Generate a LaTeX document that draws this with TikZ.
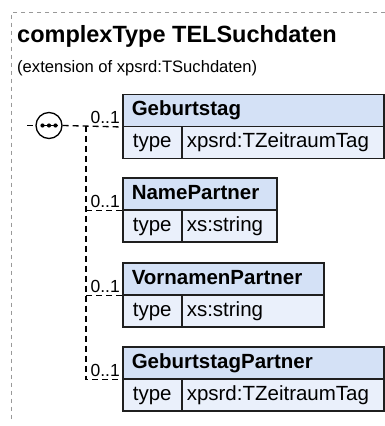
\documentclass[tikz,border=0pt]{standalone}
\usepackage{fontspec}
\setmainfont{Liberation Sans}
\begin{document}
\begin{tikzpicture}[x=1pt,y=-1pt,
  frame/.style={draw=black!40, line width=1pt, dash pattern=on 4pt off 4pt},
  conn/.style={draw=black, line width=1.3pt, dash pattern=on 6pt off 4pt},
  hdr/.style={draw=black!88, line width=1.5pt, fill=hdrblue, anchor=north west,
    minimum height=32pt, inner xsep=9pt, inner ysep=0pt, align=left,
    text height=15pt, text depth=4pt, font=\fontsize{20.5}{24}\selectfont\bfseries},
  cellk/.style={draw=black!88, line width=1.5pt, fill=rowblue, anchor=north west,
    minimum height=32pt, minimum width=59pt, inner xsep=9pt, inner ysep=0pt,
    text height=15pt, text depth=4pt, font=\fontsize{20.5}{24}\selectfont},
  cellv/.style={draw=black!88, line width=1.5pt, fill=rowblue, anchor=north west,
    minimum height=32pt, inner xsep=5pt, inner ysep=0pt, align=left,
    text height=15pt, text depth=4pt, font=\fontsize{20.5}{24}\selectfont},
  occ/.style={anchor=base east, inner sep=0pt, font=\fontsize{17.5}{19}\selectfont},
]
\definecolor{hdrblue}{HTML}{D4E1F6}
\definecolor{rowblue}{HTML}{EAF0FB}
\useasboundingbox (0,0) rectangle (385,426);

% outer dashed frame (open to right and bottom)
\draw[frame] (385,12.5) -- (11,12.5) -- (11,421);

% title
\node[anchor=base west, inner sep=0pt, font=\fontsize{23.5}{28}\selectfont\bfseries] (title) at (17,42.5) {complexType TELSuchdaten};
\node[anchor=base west, inner sep=0pt, font=\fontsize{16.6}{20}\selectfont] (sub) at (17,72.5) {(extension of xpsrd:TSuchdaten)};

% sequence compositor
\node[circle, draw=black, line width=1.3pt, fill=white, minimum size=26pt, inner sep=0pt] (seq) at (49,125.5) {};
\fill (42.5,125.5) circle (2.1pt) (49,125.5) circle (2.1pt) (55.5,125.5) circle (2.1pt);
\draw[line width=1.3pt] (40.5,125.5) -- (57.5,125.5);
\coordinate (stub) at (27,125.5);
\draw[conn] (stub) -- (seq.west);

% element boxes
\newcommand\elembox[5]{%
  \node[hdr, text width={#3-122-18}] (#1h) at (122,#2) {#4};
  \node[cellk] (#1k) at (122,{#2+32}) {type};
  \node[cellv, text width={#3-181-10}] (#1v) at (181,{#2+32}) {#5};
}
\elembox{geb}{93.5}{383}{Geburtstag}{xpsrd:TZeitraumTag}
\elembox{nam}{177}{276}{NamePartner}{xs:string}
\elembox{vor}{262}{323}{VornamenPartner}{xs:string}
\elembox{gbp}{346}{383}{GeburtstagPartner}{xpsrd:TZeitraumTag}

% connectors
\coordinate (j) at (86,125.5);
\draw[conn] (seq.east) -- (gebh.south west);
\draw[conn] (j) |- (gbph.south west);
\draw[conn] (j|-namh.south west) -- (namh.south west);
\draw[conn] (j|-vorh.south west) -- (vorh.south west);

% occurrences
\node[occ] (o1) at ([xshift=-2pt,yshift=3.5pt]gebh.south west) {0..1};
\node[occ] (o2) at ([xshift=-2pt,yshift=3.5pt]namh.south west) {0..1};
\node[occ] (o3) at ([xshift=-2pt,yshift=3.5pt]vorh.south west) {0..1};
\node[occ] (o4) at ([xshift=-2pt,yshift=3.5pt]gbph.south west) {0..1};
\end{tikzpicture}
\end{document}
